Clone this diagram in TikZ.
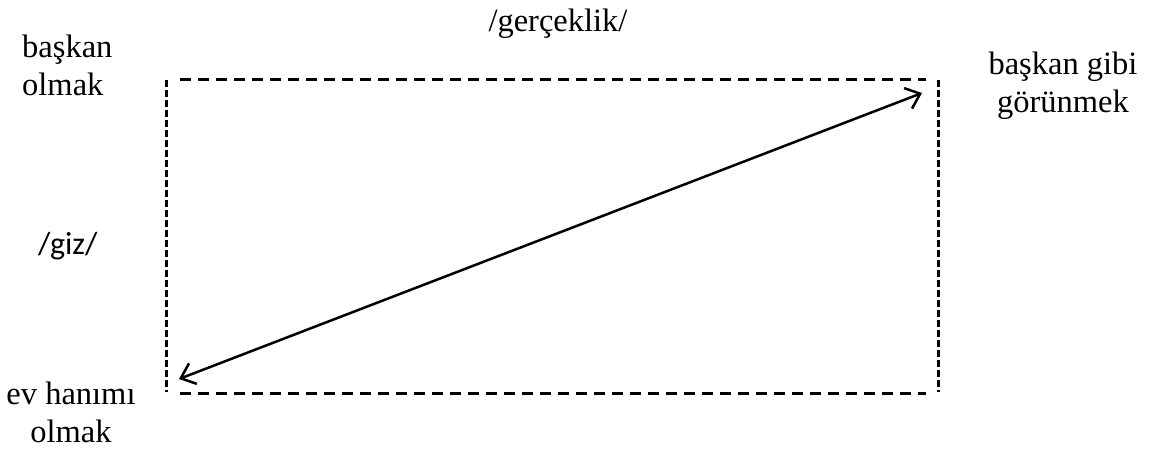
\documentclass[tikz,border=0pt]{standalone}
\usepackage{fontspec}
\setmainfont{Liberation Serif}
\newfontfamily\calibrifont{Carlito}
\usetikzlibrary{arrows.meta}
\tikzset{
  lbl/.style={inner sep=0pt, font=\fontsize{32.5}{38}\selectfont},
  sanslbl/.style={inner sep=0pt, font=\calibrifont\fontsize{32}{38}\selectfont},
  hdash/.style={line width=3pt, dash pattern=on 11pt off 7pt},
  vdash/.style={line width=3pt, dash pattern=on 7pt off 3pt},
  dblarrow/.style={line width=2.5pt, {Straight Barb[length=13pt,width=22pt]}-{Straight Barb[length=13pt,width=22pt]}}
}
\begin{document}
\begin{tikzpicture}[x=1pt,y=-1pt]
\useasboundingbox (0,0) rectangle (1152,450);
% rectangle ends
\coordinate (tlh) at (180,79);
\coordinate (trh) at (926,79);
\coordinate (blh) at (180,393);
\coordinate (brh) at (926,393);
\coordinate (tlv) at (166,80);
\coordinate (blv) at (166,392);
\coordinate (trv) at (938,80);
\coordinate (brv) at (938,392);
\draw[hdash] (tlh) -- (trh);
\draw[hdash] (blh) -- (brh);
\draw[vdash] (tlv) -- (blv);
\draw[vdash] (trv) -- (brv);
% arrow ends
\coordinate (a1) at (179,379);
\coordinate (a2) at (922,93);
\draw[dblarrow] (a1) -- (a2);
% labels
\node[lbl, anchor=base] (ger) at (558,31) {/gerçeklik/};
\node[lbl, anchor=base west, align=left] (bo) at (22,95) {başkan\\olmak};
\node[lbl, anchor=base, align=center] (bg) at (1063,112) {başkan gibi\\görünmek};
\node[lbl, anchor=base, align=center] (eh) at (71,442) {ev hanımı\\olmak};
\node[sanslbl, anchor=base west] (giz) at (38,254) {/giz/};
\end{tikzpicture}
\end{document}
